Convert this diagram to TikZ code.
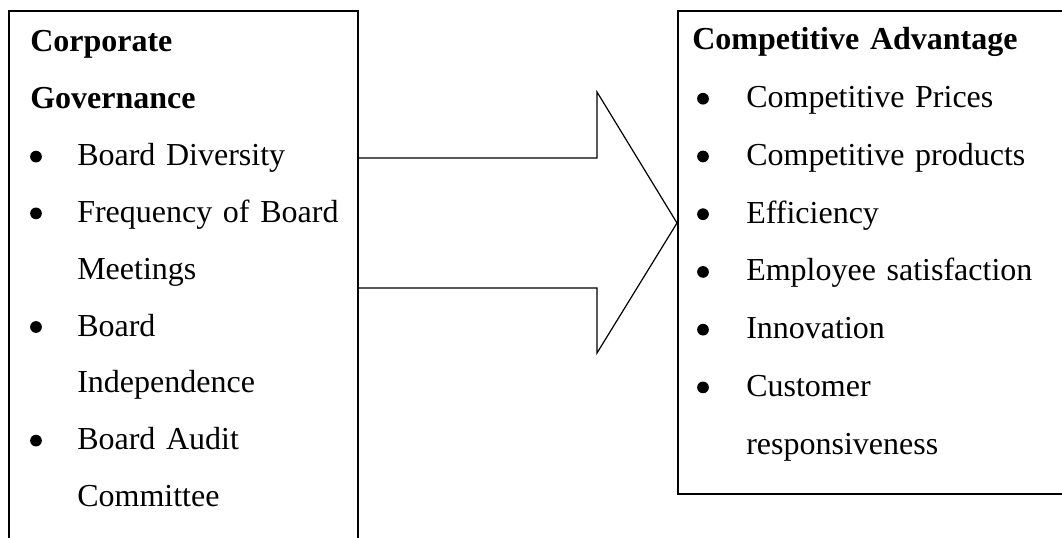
\documentclass[tikz,border=0pt]{standalone}
\usepackage{fontspec}
\setmainfont{Liberation Serif}
\usetikzlibrary{positioning}

\begin{document}
\begin{tikzpicture}[x=0.75pt,y=-0.75pt,node distance=0pt,
		every node/.style={font=\fontsize{24}{29}\selectfont},
		entry/.style={inner sep=0pt,text width=400pt,align=left,text height=30pt},
		govline/.style={entry,text depth=12.2pt},
		advline/.style={entry,text depth=12.9pt},
		dotnode/.style={circle,fill=black,inner sep=0pt,minimum size=8.8pt},
		boxnode/.style={draw,line width=1.2pt,inner sep=0pt,anchor=north west},
		bigarrow/.style={draw,line width=0.9pt,line join=miter}]
		\useasboundingbox[fill=white] (0,0) rectangle (1062,538);
		\clip (0,0) rectangle (1062,538);

		\node[boxnode,minimum width=261.75pt,minimum height=450pt] 	(govbox)	at (8,10)	{};
		\node[boxnode,minimum width=317pt,minimum height=362.25pt] 	(advbox)	at (677,10)	{};

		% left box
		\node[govline,anchor=base west,font=\fontsize{24}{29}\selectfont\bfseries]	(corp)	at (30,52)	{Corporate};
		\node[govline,below=of corp,font=\fontsize{24}{29}\selectfont\bfseries] 	(govn)	{Governance};
		\node[govline,below=of govn,xshift=35.25pt] 	(div)	{Board Diversity};
		\node[govline,below=of div] 	(freq)	{Frequency of Board};
		\node[govline,below=of freq] 	(meet)	{Meetings};
		\node[govline,below=of meet] 	(board)	{Board};
		\node[govline,below=of board] 	(indep)	{Independence};
		\node[govline,below=of indep] 	(audit)	{Board Audit};
		\node[govline,below=of audit] 	(comm)	{Committee};

		\node[dotnode] 	(b-div)		at ([shift={(-41,-9)}]div.base west)	{};
		\node[dotnode] 	(b-freq)	at ([shift={(-41,-9)}]freq.base west)	{};
		\node[dotnode] 	(b-board)	at ([shift={(-41,-9)}]board.base west)	{};
		\node[dotnode] 	(b-audit)	at ([shift={(-41,-9)}]audit.base west)	{};

		% right box
		\node[advline,anchor=base west,font=\fontsize{24}{29}\selectfont\bfseries]	(adv)	at (692,50)	{Competitive Advantage};
		\node[advline,below=of adv,xshift=40.5pt] 	(price)	{Competitive Prices};
		\node[advline,below=of price] 	(prod)	{Competitive products};
		\node[advline,below=of prod] 	(eff)	{Efficiency};
		\node[advline,below=of eff] 	(empl)	{Employee satisfaction};
		\node[advline,below=of empl] 	(innov)	{Innovation};
		\node[advline,below=of innov] 	(cust)	{Customer};
		\node[advline,below=of cust] 	(resp)	{responsiveness};

		\node[dotnode] 	(b-price)	at ([shift={(-43,-9)}]price.base west)	{};
		\node[dotnode] 	(b-prod)	at ([shift={(-43,-9)}]prod.base west)	{};
		\node[dotnode] 	(b-eff)		at ([shift={(-43,-9)}]eff.base west)	{};
		\node[dotnode] 	(b-empl)	at ([shift={(-43,-9)}]empl.base west)	{};
		\node[dotnode] 	(b-innov)	at ([shift={(-43,-9)}]innov.base west)	{};
		\node[dotnode] 	(b-cust)	at ([shift={(-43,-9)}]cust.base west)	{};

		% block arrow between the boxes
		\draw[bigarrow] (govbox.east |- 0,158) -- (597,158) -- (597,92) -- (advbox.west |- 0,223)
			-- (597,353) -- (597,288) -- (govbox.east |- 0,288);
	\end{tikzpicture}
\end{document}
